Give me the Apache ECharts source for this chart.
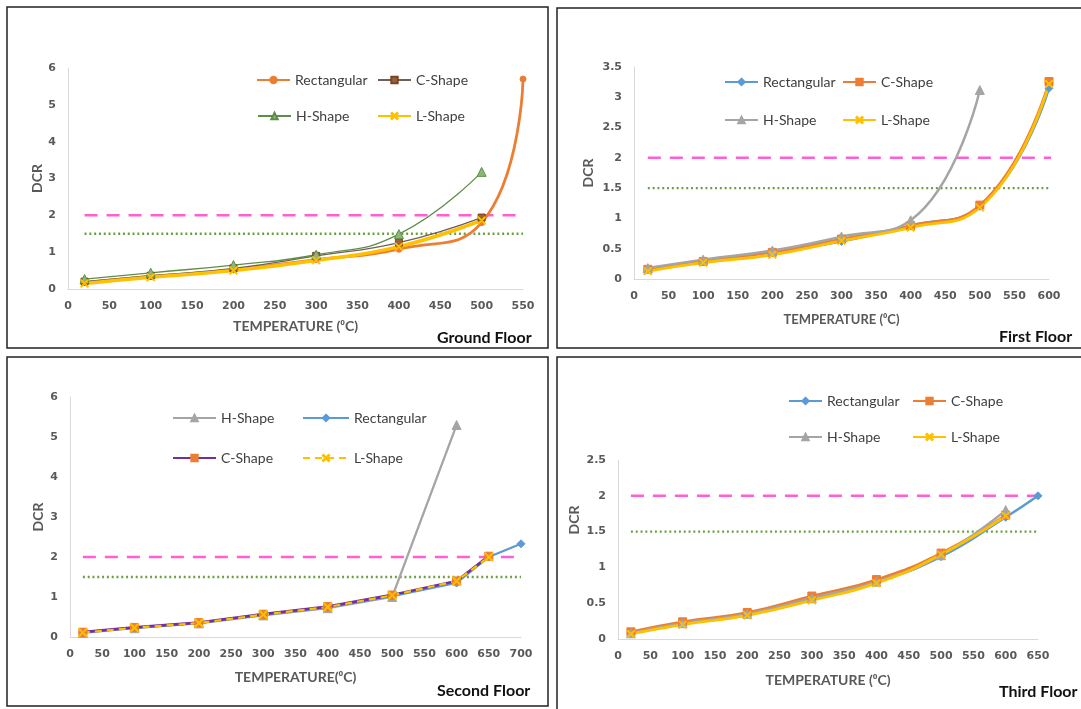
<!DOCTYPE html>
<html>
<head>
<meta charset="utf-8">
<script src="https://cdn.jsdelivr.net/npm/echarts@6/dist/echarts.min.js"></script>
<style>
html,body{margin:0;padding:0;background:#fff;}
#chart{width:1081px;height:709px;}
</style>
</head>
<body>
<div id="chart"></div>
<script>
// ---------- DATA ----------
// Ground Floor
const groundTemps = [20, 100, 200, 300, 400, 500, 550];
const groundRect  = [0.18, 0.34, 0.52, 0.80, 1.08, 1.80, 5.70];
const groundC     = [0.20, 0.36, 0.56, 0.90, 1.26, 1.94];
const groundH     = [0.27, 0.44, 0.65, 0.93, 1.49, 3.18];
const groundL     = [0.15, 0.32, 0.50, 0.78, 1.15, 1.86];
const groundXTicks = [0, 550, 50];
const groundYTicks = [0, 6, 1];
const groundRefX = [20, 550];

// First Floor
const firstTemps = [20, 100, 200, 300, 400, 500, 600];
const firstRect  = [0.17, 0.30, 0.45, 0.62, 0.88, 1.20, 3.15];
const firstC     = [0.16, 0.29, 0.44, 0.66, 0.88, 1.22, 3.26];
const firstH     = [0.18, 0.32, 0.47, 0.70, 0.97, 3.12];
const firstL     = [0.13, 0.27, 0.40, 0.63, 0.85, 1.18, 3.22];
const firstXTicks = [0, 600, 50];
const firstYTicks = [0, 3.5, 0.5];
const firstRefX = [20, 610];

// Second Floor
const secondTemps = [20, 100, 200, 300, 400, 500, 600, 650, 700];
const secondH     = [0.10, 0.22, 0.34, 0.54, 0.72, 1.00, 5.30];
const secondRect  = [0.12, 0.23, 0.35, 0.55, 0.74, 1.02, 1.35, 2.00, 2.33];
const secondC     = [0.12, 0.24, 0.36, 0.57, 0.76, 1.05, 1.40, 2.02];
const secondL     = [0.11, 0.23, 0.35, 0.56, 0.75, 1.04, 1.40, 2.00];
const secondXTicks = [0, 700, 50];
const secondYTicks = [0, 6, 1];
const secondRefX = [20, 700];

// Third Floor
const thirdTemps = [20, 100, 200, 300, 400, 500, 600, 650];
const thirdRect  = [0.08, 0.22, 0.35, 0.56, 0.80, 1.15, 1.70, 2.00];
const thirdC     = [0.10, 0.24, 0.37, 0.60, 0.83, 1.20, 1.73];
const thirdH     = [0.08, 0.22, 0.35, 0.57, 0.80, 1.17, 1.80];
const thirdL     = [0.07, 0.20, 0.33, 0.54, 0.78, 1.18, 1.72];
const thirdXTicks = [0, 650, 50];
const thirdYTicks = [0, 2.5, 0.5];
const thirdRefX = [20, 650];

// Reference DCR levels
const limitDCR = 2;
const serviceDCR = 1.5;

const panelTitles = ['Ground Floor', 'First Floor', 'Second Floor', 'Third Floor'];
const xNames = ['TEMPERATURE (\u2070C)', 'TEMPERATURE (\u2070C)', 'TEMPERATURE(\u2070C)', 'TEMPERATURE (\u2070C)'];
const yName = 'DCR';

// ---------- HELPERS ----------
const FONT = 'Lato, "Open Sans", sans-serif';
const TICKFONT = '"DejaVu Sans", sans-serif';
const GREY = '#595959';
const XSYM = 'path://M1,0 L5,4 L9,0 L10,1 L6,5 L10,9 L9,10 L5,6 L1,10 L0,9 L4,5 L0,1 Z';

function pts(temps, vals) { return vals.map((v, i) => [temps[i], v]); }

function line(name, grid, temps, vals, o) {
  return {
    type: 'line', name: name + '|' + grid, xAxisIndex: grid, yAxisIndex: grid,
    data: pts(temps, vals), smooth: o.smooth, symbol: o.symbol, symbolSize: o.size,
    showSymbol: true, animation: false,
    lineStyle: { color: o.color, width: o.width, type: o.type || 'solid' },
    itemStyle: { color: o.mcolor || o.color, borderColor: o.mborder || o.mcolor || o.color, borderWidth: o.bw || 1 },
    z: o.z || 2
  };
}
function refLine(grid, range, level, kind) {
  return {
    type: 'line', name: 'ref' + kind + grid, xAxisIndex: grid, yAxisIndex: grid,
    data: [[range[0], level], [range[1], level]], symbol: 'none', animation: false,
    lineStyle: kind === 'limit'
      ? { color: '#FF5FD2', width: 2.5, type: [13, 9] }
      : { color: '#6E9F46', width: 2.4, type: [2, 2.8], cap: 'butt' },
    z: 1, silent: true
  };
}
function xAxis(grid, ticks, gap, nsize) {
  return {
    type: 'value', gridIndex: grid, min: ticks[0], max: ticks[1], interval: ticks[2],
    axisLine: { show: true, lineStyle: { color: '#D9D9D9', width: 1 } },
    axisTick: { show: false }, splitLine: { show: false },
    axisLabel: { color: GREY, fontSize: 11, fontWeight: 'bold', fontFamily: TICKFONT, margin: 12 },
    name: xNames[grid], nameLocation: 'middle', nameGap: gap,
    nameTextStyle: { color: GREY, fontSize: nsize, fontWeight: 'bold', fontFamily: FONT }
  };
}
function yAxis(grid, ticks, gap, withName) {
  return {
    type: 'value', gridIndex: grid, min: ticks[0], max: ticks[1], interval: ticks[2],
    axisLine: { show: true, lineStyle: { color: '#D9D9D9', width: 1 } },
    axisTick: { show: false }, splitLine: { show: false },
    axisLabel: { color: GREY, fontSize: 11, fontWeight: 'bold', fontFamily: TICKFONT, margin: 12 },
    name: withName ? yName : '', nameLocation: 'middle', nameGap: gap, nameRotate: 90,
    nameTextStyle: { color: GREY, fontSize: 14, fontWeight: 'bold', fontFamily: FONT }
  };
}
function leg(name, grid, left, cy, w) {
  return {
    data: [name + '|' + grid], left: left, top: cy - 8, padding: 0,
    itemWidth: w, itemHeight: 8, selectedMode: false,
    formatter: n => n.split('|')[0],
    textStyle: { color: '#404040', fontSize: 14, fontFamily: FONT }
  };
}

// ---------- STYLES ----------
const ORANGE = '#ED7D31', BLUE = '#5B9BD5', GRAYL = '#A5A5A5', GOLD = '#FFC000';

const series = [
  // Ground floor
  refLine(0, groundRefX, limitDCR, 'limit'), refLine(0, groundRefX, serviceDCR, 'service'),
  line('Rectangular', 0, groundTemps, groundRect, { smooth: 0.5, symbol: 'circle', size: 6, color: ORANGE, width: 2.8 }),
  line('C-Shape', 0, groundTemps, groundC, { smooth: 0.5, symbol: 'rect', size: 7, color: '#6E5F58', width: 1.3, mcolor: '#A0603A', mborder: '#7A4526' }),
  line('H-Shape', 0, groundTemps, groundH, { smooth: 0.5, symbol: 'triangle', size: 9, color: '#5E8F48', width: 1.3, mcolor: '#8DB77A', mborder: '#5E8F48' }),
  line('L-Shape', 0, groundTemps, groundL, { smooth: 0.5, symbol: XSYM, size: 8, color: GOLD, width: 3.5 }),
  // First floor
  refLine(1, firstRefX, limitDCR, 'limit'), refLine(1, firstRefX, serviceDCR, 'service'),
  line('Rectangular', 1, firstTemps, firstRect, { smooth: 0.5, symbol: 'diamond', size: 8, color: BLUE, width: 2.5 }),
  line('C-Shape', 1, firstTemps, firstC, { smooth: 0.5, symbol: 'rect', size: 8, color: ORANGE, width: 2.5 }),
  line('H-Shape', 1, firstTemps, firstH, { smooth: 0.5, symbol: 'triangle', size: 9, color: GRAYL, width: 2.5 }),
  line('L-Shape', 1, firstTemps, firstL, { smooth: 0.5, symbol: XSYM, size: 8, color: GOLD, width: 2.8 }),
  // Second floor
  refLine(2, secondRefX, limitDCR, 'limit'), refLine(2, secondRefX, serviceDCR, 'service'),
  line('H-Shape', 2, secondTemps, secondH, { smooth: false, symbol: 'triangle', size: 9, color: GRAYL, width: 2.2 }),
  line('Rectangular', 2, secondTemps, secondRect, { smooth: false, symbol: 'diamond', size: 8, color: BLUE, width: 2.2 }),
  line('C-Shape', 2, secondTemps, secondC, { smooth: false, symbol: 'rect', size: 8, color: '#7030A0', width: 2.8, mcolor: ORANGE }),
  line('L-Shape', 2, secondTemps, secondL, { smooth: false, symbol: XSYM, size: 9, color: GOLD, width: 2.2, type: [7, 5] }),
  // Third floor
  refLine(3, thirdRefX, limitDCR, 'limit'), refLine(3, thirdRefX, serviceDCR, 'service'),
  line('Rectangular', 3, thirdTemps, thirdRect, { smooth: 0.5, symbol: 'diamond', size: 8, color: BLUE, width: 2.5 }),
  line('C-Shape', 3, thirdTemps, thirdC, { smooth: 0.5, symbol: 'rect', size: 8, color: ORANGE, width: 2.5 }),
  line('H-Shape', 3, thirdTemps, thirdH, { smooth: 0.5, symbol: 'triangle', size: 9, color: GRAYL, width: 2.5 }),
  line('L-Shape', 3, thirdTemps, thirdL, { smooth: 0.5, symbol: XSYM, size: 8, color: GOLD, width: 2.8 })
];

const legends = [
  leg('Rectangular', 0, 256, 81, 33), leg('C-Shape', 0, 377, 81, 33),
  leg('H-Shape', 0, 257, 117, 33), leg('L-Shape', 0, 377, 117, 33),
  leg('Rectangular', 1, 724, 83, 33), leg('C-Shape', 1, 842, 83, 33),
  leg('H-Shape', 1, 724, 121, 33), leg('L-Shape', 1, 842, 121, 33),
  leg('H-Shape', 2, 172, 419, 43), leg('Rectangular', 2, 302, 419, 46),
  leg('C-Shape', 2, 172, 459, 43), leg('L-Shape', 2, 302, 459, 46),
  leg('Rectangular', 3, 788, 402, 33), leg('C-Shape', 3, 912, 402, 33),
  leg('H-Shape', 3, 788, 438, 33), leg('L-Shape', 3, 912, 438, 33)
];

const titlePos = [[437, 330], [999, 329], [437, 683], [999, 684]];
const titles = panelTitles.map((t, i) => ({
  text: t, left: titlePos[i][0], top: titlePos[i][1], padding: 0,
  textStyle: { fontSize: 16, fontWeight: 'bold', color: '#111', fontFamily: FONT }
}));

const graphics = [
  [7, 7, 541, 341], [557, 8, 540, 340], [7, 357, 541, 349], [557, 357, 540, 360]
].map(b => ({
  type: 'rect', shape: { x: b[0], y: b[1], width: b[2], height: b[3] },
  style: { fill: 'none', stroke: '#222', lineWidth: 1.5 }, z: 100, silent: true
}));
// Third-floor DCR label sits above the plot's middle in the reference
graphics.push({
  type: 'text', x: 574, y: 520, rotation: Math.PI / 2, silent: true,
  style: { text: yName, fill: GREY, font: 'bold 14px ' + FONT, textAlign: 'center', textVerticalAlign: 'middle' }
});

const option = {
  backgroundColor: '#fff',
  animation: false,
  title: titles,
  legend: legends,
  graphic: graphics,
  grid: [
    { left: 68, top: 68, width: 455, height: 221 },
    { left: 634, top: 67, width: 415, height: 212 },
    { left: 70, top: 397, width: 451, height: 240 },
    { left: 618, top: 460, width: 420, height: 179 }
  ],
  xAxis: [
    xAxis(0, groundXTicks, 30, 14), xAxis(1, firstXTicks, 34, 13),
    xAxis(2, secondXTicks, 33, 14), xAxis(3, thirdXTicks, 34, 14)
  ],
  yAxis: [
    yAxis(0, groundYTicks, 24, true), yAxis(1, firstYTicks, 39, true),
    yAxis(2, secondYTicks, 25, true), yAxis(3, thirdYTicks, 37, false)
  ],
  series: series
};

const chart = echarts.init(document.getElementById('chart'), null, { renderer: 'canvas' });
chart.setOption(option);
</script>
</body>
</html>
